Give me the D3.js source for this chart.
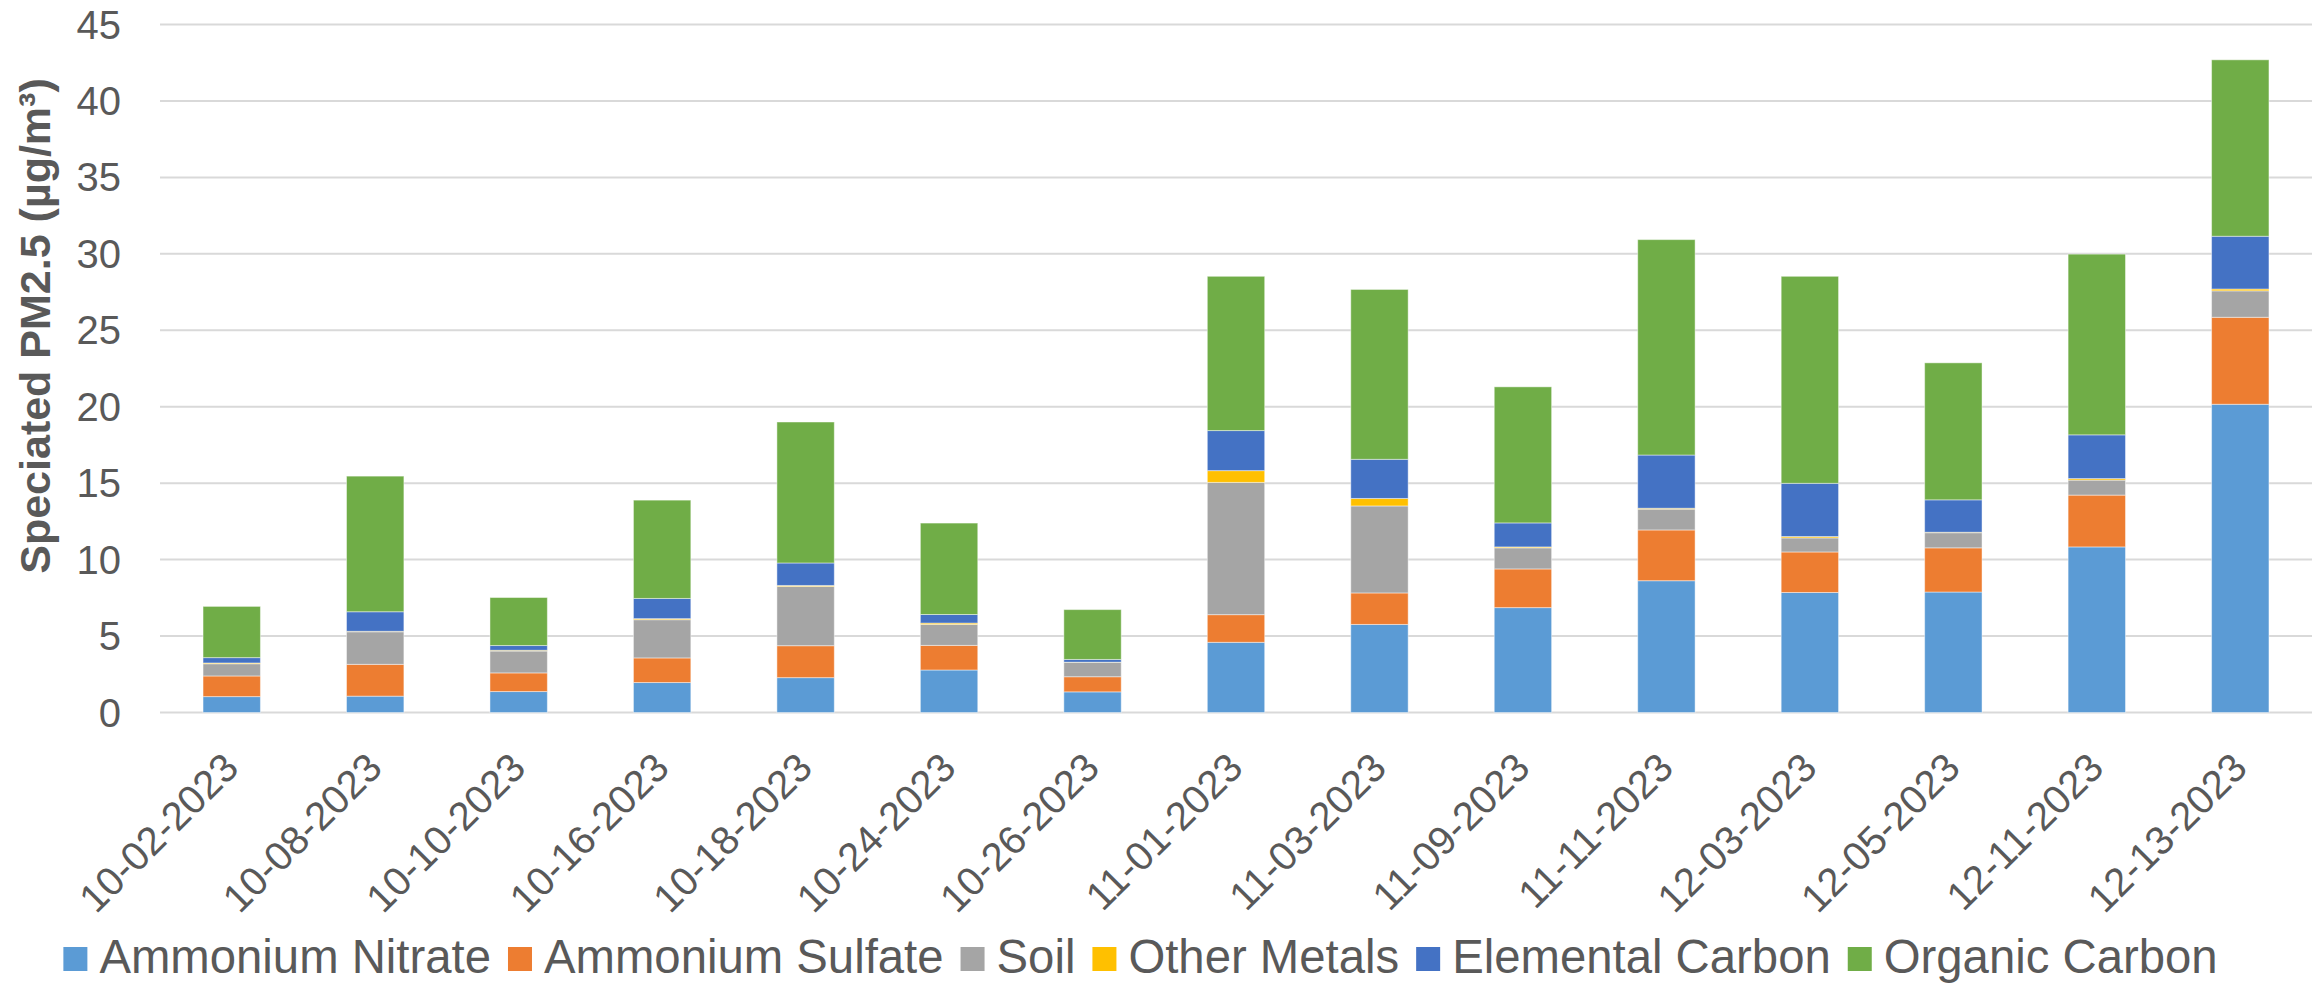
<!DOCTYPE html>
<html>
<head>
<meta charset="utf-8">
<script src="https://cdn.jsdelivr.net/npm/d3@7"></script>
<style>
  html, body { margin: 0; padding: 0; background: #fff; }
  svg text { font-family: "Liberation Sans", Arial, sans-serif; fill: #595959; }
</style>
</head>
<body>
<svg id="chart"></svg>
<script>
const categories = ["10-02-2023", "10-08-2023", "10-10-2023", "10-16-2023", "10-18-2023", "10-24-2023", "10-26-2023",
    "11-01-2023", "11-03-2023", "11-09-2023", "11-11-2023", "12-03-2023", "12-05-2023", "12-11-2023", "12-13-2023"];

const seriesNames = ["Ammonium Nitrate", "Ammonium Sulfate", "Soil", "Other Metals", "Elemental Carbon", "Organic Carbon"];

const ammoniumNitrate = [1.04, 1.07, 1.37, 1.96, 2.28, 2.78, 1.35, 4.59, 5.76, 6.86, 8.62, 7.85, 7.88, 10.83, 20.16];
const ammoniumSulfate = [1.35, 2.08, 1.22, 1.61, 2.09, 1.61, 0.99, 1.81, 2.06, 2.53, 3.32, 2.65, 2.89, 3.39, 5.69];
const soil            = [0.80, 2.13, 1.43, 2.50, 3.87, 1.37, 0.93, 8.65, 5.69, 1.38, 1.36, 0.92, 0.99, 0.98, 1.73];
const otherMetals     = [0.05, 0.03, 0.05, 0.07, 0.07, 0.09, 0.02, 0.77, 0.49, 0.06, 0.06, 0.09, 0.03, 0.10, 0.12];
const elementalCarbon = [0.35, 1.28, 0.31, 1.32, 1.47, 0.56, 0.18, 2.62, 2.56, 1.57, 3.48, 3.48, 2.12, 2.86, 3.45];
const organicCarbon   = [3.35, 8.87, 3.14, 6.43, 9.22, 5.98, 3.26, 10.09, 11.11, 8.90, 14.09, 13.54, 8.96, 11.82, 11.54];

const yTicks = [0, 5, 10, 15, 20, 25, 30, 35, 40, 45];

const colors = ["#5B9BD5", "#ED7D31", "#A5A5A5", "#FFC000", "#4472C4", "#70AD47"];

const width = 2323, height = 984;
const margin = { top: 24.5, right: 11, bottom: 271, left: 160 };

const svg = d3.select("#chart").attr("width", width).attr("height", height);

// build rows for d3.stack
const allSeries = [ammoniumNitrate, ammoniumSulfate, soil, otherMetals, elementalCarbon, organicCarbon];
const rows = categories.map((c, i) => {
    const r = { date: c };
    seriesNames.forEach((s, j) => { r[s] = allSeries[j][i]; });
    return r;
});
const stacked = d3.stack().keys(seriesNames)(rows);

const x = d3.scaleBand()
    .domain(categories)
    .range([margin.left, width - margin.right])
    .paddingInner(0.6)
    .paddingOuter(0.3);

const y = d3.scaleLinear()
    .domain([0, 45])
    .range([height - margin.bottom - 0.5, margin.top]);

const color = d3.scaleOrdinal(seriesNames, colors);

// gridlines
svg.append("g")
    .selectAll("line")
    .data(yTicks)
    .enter().append("line")
    .attr("x1", margin.left)
    .attr("x2", width - margin.right)
    .attr("y1", d => y(d))
    .attr("y2", d => y(d))
    .attr("stroke", "#D9D9D9")
    .attr("stroke-width", 2);

// y tick labels
svg.append("g")
    .selectAll("text")
    .data(yTicks)
    .enter().append("text")
    .attr("x", 121)
    .attr("y", d => y(d))
    .attr("dy", "0.35em")
    .attr("text-anchor", "end")
    .style("font-size", "40px")
    .text(d => d);

// bars
svg.append("g")
    .selectAll("g")
    .data(stacked)
    .enter().append("g")
    .attr("fill", d => color(d.key))
    .selectAll("rect")
    .data(d => d)
    .enter().append("rect")
    .attr("x", d => x(d.data.date))
    .attr("width", x.bandwidth())
    .attr("y", d => y(d[1]))
    .attr("height", d => y(d[0]) - y(d[1]))
    .attr("stroke", "#fff")
    .attr("stroke-opacity", 0.45)
    .attr("stroke-width", 1);

// x labels, rotated
svg.append("g")
    .selectAll("text")
    .data(categories)
    .enter().append("text")
    .attr("transform", d => `translate(${x(d) + x.bandwidth() / 2 + 9}, 770) rotate(-45)`)
    .attr("text-anchor", "end")
    .style("font-size", "40px")
    .text(d => d);

// y axis title
svg.append("text")
    .attr("transform", "translate(50, 326) rotate(-90)")
    .attr("text-anchor", "middle")
    .style("font-size", "43px")
    .style("font-weight", "bold")
    .text("Speciated PM2.5 (µg/m³)");

// legend
const legend = svg.append("g");
let lx = 0;
seriesNames.forEach((s, i) => {
    const g = legend.append("g").attr("transform", `translate(${lx}, 0)`);
    g.append("rect")
        .attr("x", 0)
        .attr("y", 947)
        .attr("width", 24)
        .attr("height", 24)
        .attr("fill", colors[i]);
    const t = g.append("text")
        .attr("x", 36)
        .attr("y", 973)
        .style("font-size", "47.3px")
        .text(s);
    lx += 36 + t.node().getComputedTextLength() + 17;
});
const legendWidth = lx - 17;
legend.attr("transform", `translate(${1140.5 - legendWidth / 2}, 0)`);
</script>
</body>
</html>
